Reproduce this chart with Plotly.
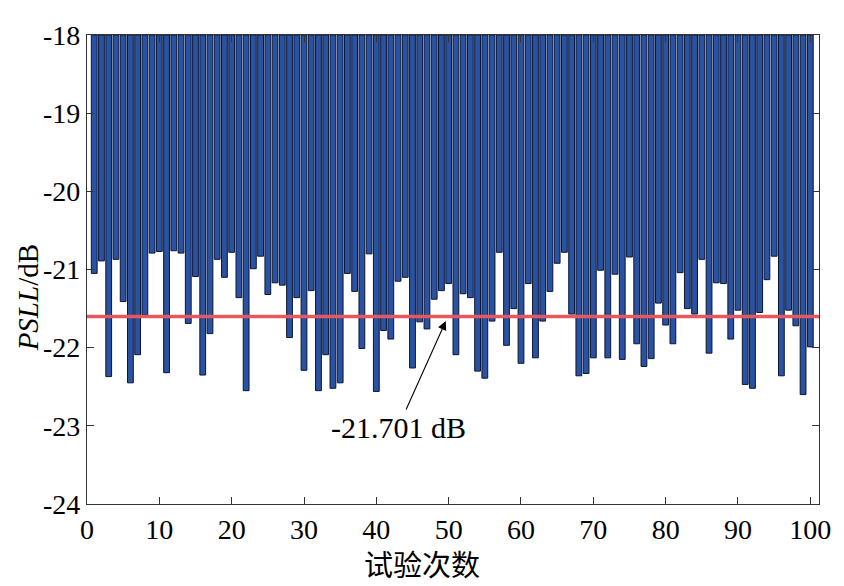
import plotly.graph_objects as go

# PSLL of each trial (dB)
trials = list(range(1, 101))
psll = [
    -21.05, -20.89, -22.37, -20.87, -21.41, -22.45, -22.09, -21.58, -20.79, -20.77,
    -22.32, -20.76, -20.79, -21.69, -21.09, -22.35, -21.82, -20.87, -21.10, -20.78,
    -21.36, -22.55, -20.99, -20.83, -21.32, -21.17, -21.20, -21.87, -21.36, -22.29,
    -21.27, -22.55, -22.09, -22.52, -22.45, -21.05, -21.28, -22.01, -20.80, -22.56,
    -21.78, -21.89, -21.15, -21.10, -22.26, -21.67, -21.76, -21.38, -21.27, -21.18,
    -22.09, -21.31, -21.36, -22.30, -22.39, -21.66, -20.78, -21.97, -21.50, -22.20,
    -21.18, -22.13, -21.66, -21.28, -20.92, -20.78, -21.57, -22.36, -22.33, -22.13,
    -21.01, -22.13, -21.06, -22.15, -20.84, -21.95, -22.24, -22.14, -21.43, -21.71,
    -21.95, -21.04, -21.50, -21.57, -20.87, -22.07, -21.17, -21.18, -21.89, -21.52,
    -22.47, -22.52, -21.55, -21.13, -20.83, -22.36, -21.52, -21.72, -22.60, -21.99,
]
bar_top = -18
ref_level = -21.6
ref_label = "-21.701 dB"

x_ticks = [0, 10, 20, 30, 40, 50, 60, 70, 80, 90, 100]
y_ticks = [-24, -23, -22, -21, -20, -19, -18]
y_ticktext = ["-24", "-23", "-22", "-21", "-20", "-19", "-18"]

serif = "Liberation Serif"

fig = go.Figure()

# bars hang down from the top of the axis
fig.add_trace(go.Bar(
    x=trials,
    y=[v - bar_top for v in psll],
    base=bar_top,
    width=0.8,
    marker=dict(color="#2a52a2", line=dict(color="#0b1530", width=1)),
    showlegend=False,
))

# red reference line
fig.add_trace(go.Scatter(
    x=[0, 101.2], y=[ref_level, ref_level],
    mode="lines",
    line=dict(color="#e4585e", width=3.5),
    showlegend=False,
))

fig.add_annotation(
    x=49.6, y=-21.66, xref="x", yref="y",
    ax=43.0, ay=-23.02, axref="x", ayref="y",
    text=ref_label,
    showarrow=True, arrowhead=2, arrowsize=1.6, arrowwidth=1.1,
    arrowcolor="black", standoff=0,
    font=dict(family=serif, size=30, color="black"),
)

# axis titles
fig.add_annotation(
    x=-0.081, y=0.44, xref="paper", yref="paper",
    xanchor="center", yanchor="middle",
    text="<i>PSLL</i>/dB", textangle=-90, showarrow=False,
    font=dict(family=serif, size=29, color="black"),
)
fig.add_annotation(
    x=0.458, y=-0.125, xref="paper", yref="paper",
    xanchor="center", yanchor="middle",
    text="试验次数", showarrow=False,
    font=dict(family="Noto Sans CJK SC", size=29, color="black"),
)

axis_common = dict(
    showgrid=False, zeroline=False,
    showline=True, linecolor="#333333", linewidth=1.3,
    mirror="ticks", ticks="inside", ticklen=7, tickcolor="#333333",
    tickfont=dict(family=serif, size=28, color="black"),
)

fig.update_xaxes(range=[0, 101.2], tickvals=x_ticks, ticklabelstandoff=0, **axis_common)
fig.update_yaxes(range=[-24, -18], tickvals=y_ticks, ticktext=y_ticktext, **axis_common)

fig.update_layout(
    width=844, height=586,
    margin=dict(l=79, r=33, t=24, b=90),
    plot_bgcolor="white", paper_bgcolor="white",
    bargap=0.2,
)

fig.write_html("out.html")
